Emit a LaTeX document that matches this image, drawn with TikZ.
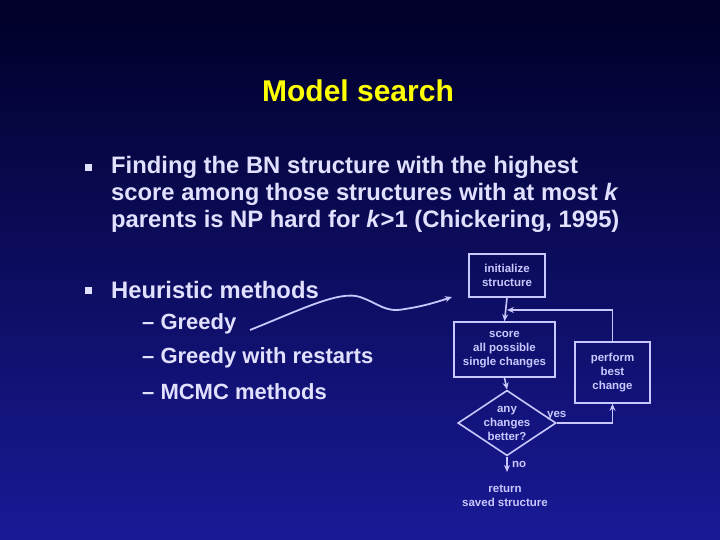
\documentclass[tikz,border=0pt]{standalone}
\usepackage{fontspec}
\setmainfont{Liberation Sans}
\usetikzlibrary{shapes.geometric,arrows.meta}
\definecolor{fc}{RGB}{200,200,255}
\definecolor{tc}{RGB}{225,225,255}
\definecolor{bgtop}{RGB}{0,0,40}
\definecolor{bgbot}{RGB}{25,25,150}
\begin{document}
\begin{tikzpicture}[x=1pt,y=-1pt,
  body/.style={text=tc,font=\fontsize{23.8}{27}\selectfont\bfseries,anchor=west,inner sep=0},
  sub/.style={text=tc,font=\fontsize{22}{26}\selectfont\bfseries,anchor=west,inner sep=0},
  bul/.style={fill=tc,minimum size=7pt,inner sep=0},
  fbox/.style={draw=fc,line width=1.6pt,text=fc,font=\fontsize{11.5}{14}\selectfont\bfseries,align=center,inner sep=1pt},
  flab/.style={text=fc,font=\fontsize{11.5}{14}\selectfont\bfseries,align=center,inner sep=1pt},
  arr/.style={draw=fc,line width=1.6pt,-{Stealth[length=7pt,width=6pt]}}]
\shade[top color=bgtop,bottom color=bgbot] (0,0) rectangle (720,540);
\useasboundingbox (0,0) rectangle (720,540);
\node[text={rgb,255:red,255;green,255;blue,0},font=\fontsize{30}{34}\selectfont\bfseries] (title) at (358,91) {Model search};
\node[bul] (b1) at (88,168) {};
\node[body] (t1) at (111,167) {Finding the BN structure with the highest};
\node[body] (t2) at (111,194) {score among those structures with at most \textit{k}};
\node[body] (t3) at (111,221) {parents is NP hard for \textit{k}>1 (Chickering, 1995)};
\node[bul] (b2) at (88,290) {};
\node[body] (h) at (111,290) {Heuristic methods};
\node[sub] (g1) at (142,324) {– Greedy};
\node[sub] (g2) at (142,358) {– Greedy with restarts};
\node[sub] (g3) at (142,392) {– MCMC methods};
\node[fbox,minimum width=76pt,minimum height=43pt] (init) at (507,275.5) {initialize\\structure};
\node[fbox,minimum width=101pt,minimum height=55pt] (score) at (504.5,349.5) {score\\all possible\\single changes};
\node[fbox,minimum width=75pt,minimum height=61pt] (perf) at (612.5,372.5) {perform\\best\\change};
\node[fbox,diamond,aspect=1.5,minimum width=84pt,minimum height=56pt,inner sep=0] (dec) at (507,423) {any\\changes\\better?};
\node[flab] (ret) at (505,496) {return\\saved structure};
\node[flab,anchor=west] (yes) at (546,416) {yes};
\node[flab,anchor=west] (no) at (511,464) {no};
\coordinate (loop) at (507,310);
\coordinate (noend) at (507,472);
\draw[arr] (init.south) -- (score.north);
\draw[arr] (score.south) -- (dec.north);
\draw[arr] (perf.north) |- (loop);
\draw[arr] (dec.east) -| (perf.south);
\draw[arr] (dec.south) -- (noend);
\coordinate (cs) at (250,330);
\draw[arr,line width=1.8pt] (cs) .. controls (300,310) and (340,290) .. (360,297) .. controls (380,304) and (385,313) .. (405,309) .. controls (425,306) and (440,301) .. (452,297);
\end{tikzpicture}
\end{document}
